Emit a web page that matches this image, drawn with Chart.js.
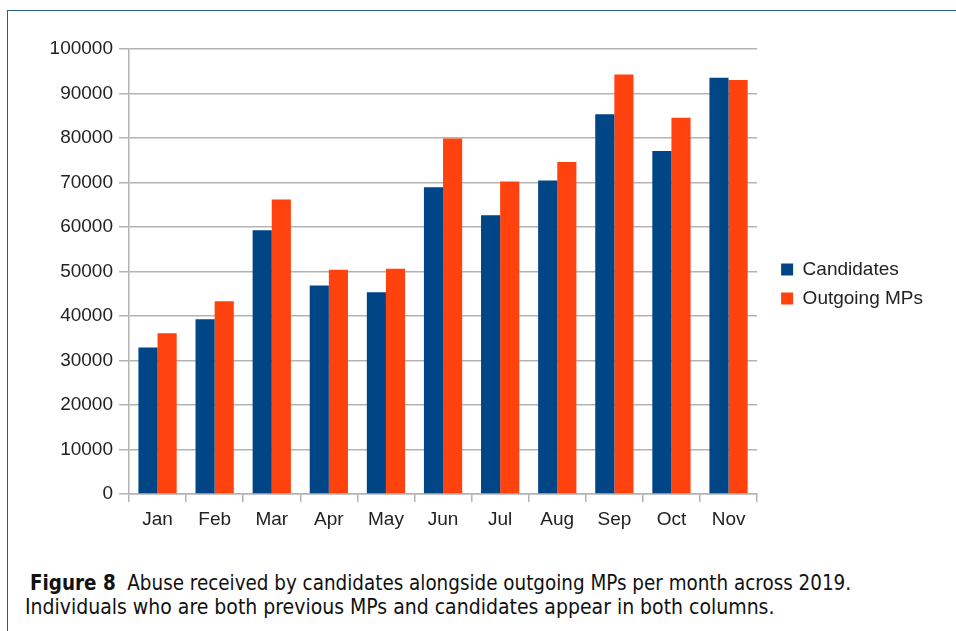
<!DOCTYPE html>
<html>
<head>
<meta charset="utf-8">
<script src="https://cdn.jsdelivr.net/npm/chart.js@4.4.1/dist/chart.umd.min.js"></script>
<style>
  html, body { margin: 0; padding: 0; background: #fff; }
  body { width: 956px; height: 631px; position: relative; overflow: hidden; }
  #frame { position: absolute; left: 7px; top: 10px; right: -5px; bottom: -5px;
           border-top: 1.5px solid #2d5c8c; border-left: 1.5px solid #2d5c8c; }
  #wrap { position: absolute; left: 0; top: 0; width: 956px; height: 545px; }
  .cap { position: absolute; font-family: "DejaVu Sans Condensed", "DejaVu Sans", sans-serif;
         line-height: 24px; color: #111; white-space: nowrap; }
  #cap1 { left: 30px; top: 571px; font-size: 20.4px; }
  #cap2 { left: 25px; top: 595px; font-size: 21px; }
</style>
</head>
<body>
<div id="frame"></div>
<div id="wrap"><canvas id="chart"></canvas></div>
<div class="cap" id="cap1"><b>Figure 8</b>&nbsp; Abuse received by candidates alongside outgoing MPs per month across 2019.</div>
<div class="cap" id="cap2">Individuals who are both previous MPs and candidates appear in both columns.</div>
<script>
const months = ["Jan", "Feb", "Mar", "Apr", "May", "Jun", "Jul", "Aug", "Sep", "Oct", "Nov"];
const candidates = [32900, 39250, 59260, 46850, 45350, 68940, 62650, 70450, 85330, 77080, 93560];
const outgoingMPs = [36100, 43300, 66160, 50380, 50600, 79860, 70220, 74630, 94270, 84560, 93030];
const yTicks = [0, 10000, 20000, 30000, 40000, 50000, 60000, 70000, 80000, 90000, 100000];

const gridGrey = '#b3b3b3';
const textCol = '#222';
Chart.defaults.font.family = '"Liberation Sans", Arial, sans-serif';
Chart.defaults.font.size = 19;
Chart.defaults.color = textCol;

// move the legend a bit right and up so it sits where the original does
const legendNudge = {
  id: 'legendNudge',
  afterLayout(chart) {
    const lg = chart.legend;
    lg.left += 14; lg.right += 14;
    lg.top -= 8; lg.bottom -= 8;
  }
};

new Chart(document.getElementById('chart'), {
  type: 'bar',
  data: {
    labels: months,
    datasets: [
      { label: 'Candidates', data: candidates, backgroundColor: '#004586', borderWidth: 0 },
      { label: 'Outgoing MPs', data: outgoingMPs, backgroundColor: '#ff420e', borderWidth: 0 }
    ]
  },
  plugins: [legendNudge],
  options: {
    responsive: true,
    maintainAspectRatio: false,
    animation: false,
    layout: { padding: { left: 50, top: 49, right: 37, bottom: 10 } },
    datasets: { bar: { categoryPercentage: 0.67, barPercentage: 1.0 } },
    plugins: {
      tooltip: { enabled: false },
      legend: {
        position: 'right',
        labels: { boxWidth: 12, boxHeight: 12, padding: 10, color: textCol, font: { size: 19 } }
      }
    },
    scales: {
      x: {
        offset: true,
        grid: {
          offset: true,
          drawOnChartArea: true,
          color: (ctx) => ctx.index === months.length ? gridGrey : 'rgba(0,0,0,0)',
          tickColor: gridGrey,
          tickLength: 8,
          lineWidth: 1.5
        },
        border: { color: gridGrey, width: 1.5 },
        ticks: { padding: 6, color: textCol, font: { size: 19 } },
        afterFit: (s) => { s.height = 41; }
      },
      y: {
        min: 0,
        max: 100000,
        afterBuildTicks: (s) => { s.ticks = yTicks.map(v => ({ value: v })); },
        grid: { color: gridGrey, tickColor: gridGrey, tickLength: 10, lineWidth: 1.5 },
        border: { color: gridGrey, width: 1.5 },
        ticks: { padding: 6, color: textCol, font: { size: 19 }, callback: (v) => String(v) },
        afterFit: (s) => { s.width = 79; }
      }
    }
  }
});
</script>
</body>
</html>
